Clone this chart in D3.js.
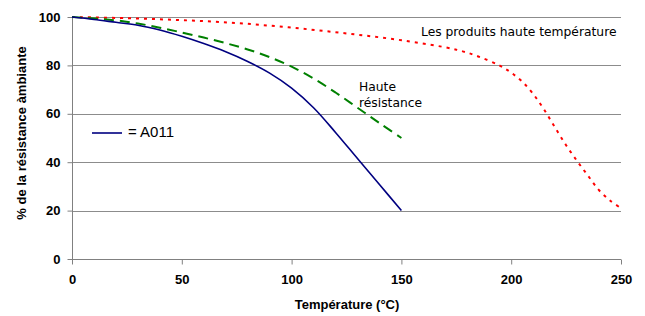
<!DOCTYPE html>
<html>
<head>
<meta charset="utf-8">
<script src="https://cdn.jsdelivr.net/npm/d3@7"></script>
<style>
  body { margin: 0; background: #fff; }
  svg { display: block; }
</style>
</head>
<body>
<div id="chart"></div>
<script>
// data
var xTicks = [0, 50, 100, 150, 200, 250];
var yTicks = [0, 20, 40, 60, 80, 100];

var a011Temp = [0, 10, 20, 30, 40, 50, 60, 70, 80, 90, 100, 110, 120, 130, 140, 150];
var a011Val = [100, 99, 97.8, 96.6, 94.6, 92, 89, 85.6, 81.6, 76.8, 70.6, 62.5, 52.3, 41.5, 30.8, 20];

var hauteResTemp = [0, 10, 20, 30, 40, 50, 60, 70, 80, 90, 100, 110, 120, 130, 140, 150];
var hauteResVal = [100, 99.4, 98.6, 97.3, 95.6, 93.6, 91.5, 89.2, 86.6, 83.4, 79.5, 74.6, 68.8, 62.5, 56.2, 50];

var hauteTempTemp = [0, 25, 50, 75, 100, 125, 150, 175, 185, 195, 200, 205, 210, 215, 220, 225, 230, 235, 240, 245, 250];
var hauteTempVal = [100, 99.5, 98.7, 97.5, 95.6, 93.2, 90.4, 86.5, 83.7, 79.8, 77, 73.3, 68.2, 61.7, 54.3, 47, 40.5, 34.4, 28.4, 24.2, 21];

var margin = {top: 17, right: 24, bottom: 57, left: 72};
var width = 645, height = 316;

var svg = d3.select("#chart").append("svg")
  .attr("width", width)
  .attr("height", height);

var x = d3.scaleLinear().domain([0, 250]).range([margin.left, width - margin.right]);
var y = d3.scaleLinear().domain([0, 100]).range([height - margin.bottom, margin.top]);

// horizontal grid lines
svg.append("g")
  .selectAll("line")
  .data(yTicks.filter(function(d) { return d > 0; }))
  .enter()
  .append("line")
  .attr("x1", x(0))
  .attr("x2", x(250))
  .attr("y1", function(d) { return Math.round(y(d)) + 0.5; })
  .attr("y2", function(d) { return Math.round(y(d)) + 0.5; })
  .style("stroke", "#8c8c8c")
  .style("stroke-width", 1);

// axes
var xAxis = d3.axisBottom(x).tickValues(xTicks).tickSize(5).tickPadding(10);
var yAxis = d3.axisLeft(y).tickValues(yTicks).tickSize(5).tickPadding(7);

var gx = svg.append("g")
  .attr("transform", "translate(0," + (Math.round(y(0)) + 0.5) + ")")
  .call(xAxis);
var gy = svg.append("g")
  .attr("transform", "translate(" + (Math.round(x(0)) + 0.5) + ",0)")
  .call(yAxis);

[gx, gy].forEach(function(g) {
  g.select(".domain").style("stroke", "#808080");
  g.selectAll(".tick line").style("stroke", "#808080");
  g.selectAll(".tick text")
    .style("font-family", "'Liberation Sans', Arial, sans-serif")
    .style("font-weight", "bold")
    .style("font-size", "13px")
    .style("fill", "#000");
});
gx.select(".domain").attr("d", "M" + x(0) + ",0H" + x(250));
gy.select(".domain").attr("d", "M0," + y(0) + "V" + y(100));

// series
function drawSeries(temps, vals, colour, dash, w) {
  var pts = temps.map(function(t, i) { return [t, vals[i]]; });
  var line = d3.line()
    .x(function(d) { return x(d[0]); })
    .y(function(d) { return y(d[1]); })
    .curve(d3.curveCatmullRom.alpha(0.5));
  svg.append("path")
    .datum(pts)
    .attr("d", line)
    .style("fill", "none")
    .style("stroke", colour)
    .style("stroke-width", w)
    .style("stroke-dasharray", dash);
}

drawSeries(hauteTempTemp, hauteTempVal, "#ff0000", "3,5", 2);
drawSeries(hauteResTemp, hauteResVal, "#008000", "10,6", 2);
drawSeries(a011Temp, a011Val, "#000080", null, 1.6);

// axis titles
svg.append("text")
  .attr("x", 347)
  .attr("y", 309)
  .attr("text-anchor", "middle")
  .style("font-family", "'Liberation Sans', Arial, sans-serif")
  .style("font-weight", "bold")
  .style("font-size", "13px")
  .text("Température (°C)");

svg.append("text")
  .attr("transform", "translate(26,133) rotate(-90)")
  .attr("text-anchor", "middle")
  .style("font-family", "'Liberation Sans', Arial, sans-serif")
  .style("font-weight", "bold")
  .style("font-size", "13px")
  .text("% de la résistance àmbiante");

// annotations
var annoFont = "'DejaVu Sans', Verdana, sans-serif";
svg.append("text")
  .attr("x", 421)
  .attr("y", 36)
  .style("font-family", annoFont)
  .style("font-size", "12.3px")
  .text("Les produits haute température");

svg.append("text")
  .attr("x", 359)
  .attr("y", 91)
  .style("font-family", annoFont)
  .style("font-size", "12.3px")
  .text("Haute");
svg.append("text")
  .attr("x", 359)
  .attr("y", 107)
  .style("font-family", annoFont)
  .style("font-size", "12.3px")
  .text("résistance");

// legend
svg.append("line")
  .attr("x1", 92)
  .attr("x2", 122)
  .attr("y1", 133)
  .attr("y2", 133)
  .style("stroke", "#000080")
  .style("stroke-width", 1.6);
svg.append("text")
  .attr("x", 128)
  .attr("y", 137)
  .style("font-family", "'Liberation Sans', Arial, sans-serif")
  .style("font-size", "15px")
  .text("= A011");
</script>
</body>
</html>
